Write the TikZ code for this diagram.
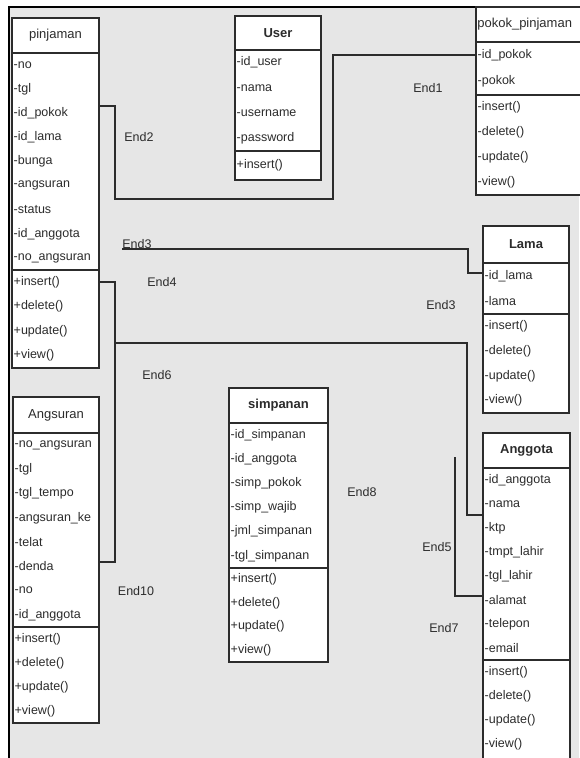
\documentclass[tikz,border=0pt]{standalone}
\usepackage{fontspec}
\setmainfont{Liberation Sans}
\usetikzlibrary{fit,calc}
\definecolor{bggray}{HTML}{E6E6E6}
\definecolor{ink}{HTML}{2C2C2C}
\tikzset{
  comp/.style={draw=ink, line width=1.7pt, fill=white, inner sep=0pt},
  rowtext/.style={anchor=west, inner sep=0pt, font=\fontsize{12.5}{13}\selectfont, text=ink},
  titlereg/.style={inner sep=0pt, font=\fontsize{13}{14}\selectfont, text=ink},
  titlebold/.style={inner sep=0pt, font=\fontsize{13}{14}\selectfont\bfseries, text=ink},
  link/.style={draw=ink, line width=1.6pt},
  endlabel/.style={inner sep=0.5pt, font=\fontsize{12.5}{13}\selectfont, text=ink},
  framebar/.style={draw=black, line width=1.4pt},
}
\def\umlpad{0}
% #1 name, #2 x1, #3 x2, #4 ytop, #5 yhead, #6 ysep, #7 ybot, #8 attrs, #9 methods
\newcommand\umlbox[9]{%
  \node[comp, fit={(#2,#4) (#3,#5)}] (#1-head) {};
  \node[comp, fit={(#2,#5) (#3,#6)}] (#1-attr) {};
  \node[comp, fit={(#2,#6) (#3,{#7+\umlpad})}] (#1-meth) {};
  \gdef\umlcount{0}%
  \foreach \itm in {#8}{\pgfmathtruncatemacro\umltmp{\umlcount+1}\global\let\umlcount\umltmp}%
  \foreach \itm [count=\i] in {#8}{\node[rowtext] (#1-a\i) at ({#2+1.5},{#5+(#6-#5)*(\i-0.5)/\umlcount}) {\itm};}%
  \gdef\umlcountm{0}%
  \foreach \itm in {#9}{\pgfmathtruncatemacro\umltmp{\umlcountm+1}\global\let\umlcountm\umltmp}%
  \foreach \itm [count=\i] in {#9}{\node[rowtext] (#1-m\i) at ({#2+1.5},{#6+(#7-#6)*(\i-0.5)/\umlcountm}) {\itm};}%
}
\begin{document}
\begin{tikzpicture}[x=1pt,y=-1pt]
\useasboundingbox (0,0) rectangle (579,758);
\fill[white] (0,0) rectangle (579,758);
\fill[bggray] (9,7) rectangle (579,758);
\draw[framebar] (9,758) -- (9,7) -- (579,7);

% connectors
\coordinate (j1a) at (115,106);
\coordinate (j1b) at (115,199);
\coordinate (j1c) at (333,199);
\coordinate (j1d) at (333,55);
\coordinate (j3s) at (122,249);
\coordinate (j3a) at (468,249);
\coordinate (j3b) at (468,273);
\coordinate (j4a) at (115,282);
\coordinate (j4b) at (115,562);
\coordinate (j6s) at (115,343);
\coordinate (j6a) at (467,343);
\coordinate (j6b) at (467,515);
\coordinate (j5s) at (455,457);
\coordinate (j5a) at (455,596);

% classes
\umlbox{pinjaman}{12}{99}{18}{53}{270}{368}%
  {-no,-tgl,-id\_pokok,-id\_lama,-bunga,-angsuran,-status,-id\_anggota,-no\_angsuran}%
  {+insert(),+delete(),+update(),+view()}
\node[titlereg] (pinjaman-title) at (pinjaman-head.center) {pinjaman};

\umlbox{user}{235}{321}{16}{50}{151}{180}%
  {-id\_user,-nama,-username,-password}%
  {+insert()}
\node[titlebold] (user-title) at (user-head.center) {User};

\umlbox{pokok}{476}{584}{7}{42}{95}{195}%
  {-id\_pokok,-pokok}%
  {-insert(),-delete(),-update(),-view()}
\node[titlereg, anchor=west] (pokok-title) at ($(pokok-head.west)+(2,0)$) {pokok\_pinjaman};

\umlbox{lama}{483}{569}{226}{263}{314}{413}%
  {-id\_lama,-lama}%
  {-insert(),-delete(),-update(),-view()}
\node[titlebold] (lama-title) at (lama-head.center) {Lama};

\umlbox{angsuran}{13}{99}{397}{433}{627}{723}%
  {-no\_angsuran,-tgl,-tgl\_tempo,-angsuran\_ke,-telat,-denda,-no,-id\_anggota}%
  {+insert(),+delete(),+update(),+view()}
\node[titlereg] (angsuran-title) at (angsuran-head.center) {Angsuran};

\umlbox{simpanan}{229}{328}{388}{423}{568}{662}%
  {-id\_simpanan,-id\_anggota,-simp\_pokok,-simp\_wajib,-jml\_simpanan,-tgl\_simpanan}%
  {+insert(),+delete(),+update(),+view()}
\node[titlebold] (simpanan-title) at (simpanan-head.center) {simpanan};

{\def\umlpad{14}%
\umlbox{anggota}{483}{570}{433}{468}{660}{756}%
  {-id\_anggota,-nama,-ktp,-tmpt\_lahir,-tgl\_lahir,-alamat,-telepon,-email}%
  {-insert(),-delete(),-update(),-view()}}
\node[titlebold] (anggota-title) at (anggota-head.center) {Anggota};

% connector lines
\draw[link] (pinjaman-attr.east |- j1a) -- (j1a) -- (j1b) -- (j1c) -- (j1d) -- (pokok-attr.west |- j1d);
\draw[link] (j3s) -- (j3a) -- (j3b) -- (lama-attr.west |- j3b);
\draw[link] (pinjaman-meth.east |- j4a) -- (j4a) -- (j4b) -- (angsuran-attr.east |- j4b);
\draw[link] (j6s) -- (j6a) -- (j6b) -- (anggota-attr.west |- j6b);
\draw[link] (j5s) -- (j5a) -- (anggota-attr.west |- j5a);

% end labels
\node[endlabel] (lbl-end1) at (428,88) {End1};
\node[endlabel] (lbl-end2) at (139,137) {End2};
\node[endlabel] (lbl-end3a) at (137,244) {End3};
\node[endlabel] (lbl-end4) at (162,282) {End4};
\node[endlabel] (lbl-end3b) at (441,305) {End3};
\node[endlabel] (lbl-end6) at (157,375) {End6};
\node[endlabel] (lbl-end8) at (362,492) {End8};
\node[endlabel] (lbl-end5) at (437,547) {End5};
\node[endlabel] (lbl-end10) at (136,591) {End10};
\node[endlabel] (lbl-end7) at (444,628) {End7};
\end{tikzpicture}
\end{document}
